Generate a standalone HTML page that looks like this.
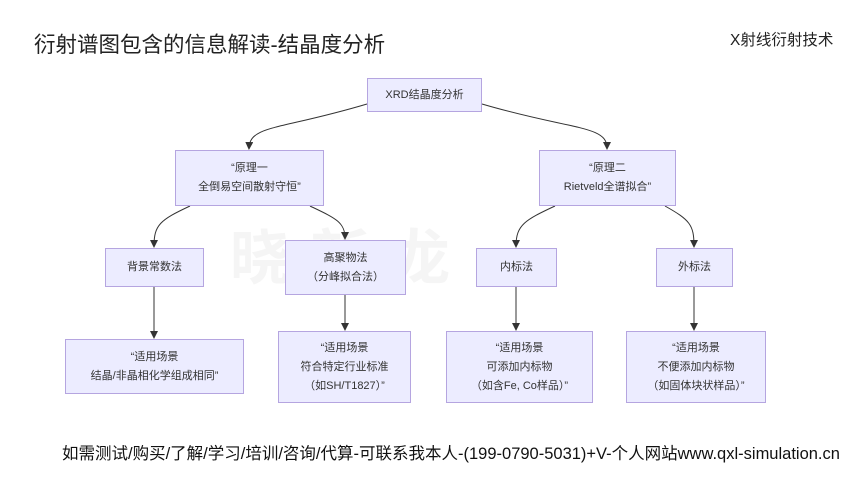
<!DOCTYPE html>
<html><head><meta charset="utf-8"><style>
body{margin:0;width:860px;height:484px;background:#fff;position:relative;overflow:hidden;font-family:"Liberation Sans","Noto Sans CJK SC",sans-serif;color:#333}
.b{position:absolute;box-sizing:border-box;background:#ececff;border:1.5px solid #b5a5e0;display:flex;align-items:center;justify-content:center;text-align:center;font-size:11px;line-height:19px;color:#333}
.t{position:absolute;white-space:nowrap}
</style></head><body>
<div class="t" style="left:34px;top:28px;font-size:21.5px;color:#222">衍射谱图包含的信息解读-结晶度分析</div>
<div class="t" style="left:730px;top:28px;font-size:15.5px;color:#222">X射线衍射技术</div>
<div class="t" style="left:230px;top:210px;font-size:60px;font-weight:bold;color:#f5f5f5;letter-spacing:20px">晓新龙</div>
<svg style="position:absolute;left:0;top:0" width="860" height="484">
<defs><marker id="a" markerWidth="8" markerHeight="8" refX="6" refY="4" orient="auto"><path d="M0,0L8,4L0,8z" fill="#333"/></marker></defs>
<g fill="none" stroke="#333" stroke-width="1">
<path d="M367,104 C280,130 250,125 249,148" marker-end="url(#a)"/>
<path d="M482,104 C570,130 607,125 607,148" marker-end="url(#a)"/>
<path d="M190,206 C160,220 154,225 154,246" marker-end="url(#a)"/>
<path d="M310,206 C335,218 345,222 345,238" marker-end="url(#a)"/>
<path d="M555,206 C525,220 516,225 516,246" marker-end="url(#a)"/>
<path d="M665,206 C690,220 694,225 694,246" marker-end="url(#a)"/>
<path d="M154,287 V337" marker-end="url(#a)"/>
<path d="M345,295 V329" marker-end="url(#a)"/>
<path d="M516,287 V329" marker-end="url(#a)"/>
<path d="M694,287 V329" marker-end="url(#a)"/>
</g></svg>
<div class="b" style="left:367px;top:78px;width:115px;height:34px">XRD结晶度分析</div>
<div class="b" style="left:175px;top:150px;width:149px;height:56px">“原理一<br>全倒易空间散射守恒”</div>
<div class="b" style="left:539px;top:150px;width:137px;height:56px">“原理二<br>Rietveld全谱拟合”</div>
<div class="b" style="left:105px;top:248px;width:99px;height:39px">背景常数法</div>
<div class="b" style="left:285px;top:240px;width:121px;height:55px">高聚物法<br>（分峰拟合法）</div>
<div class="b" style="left:476px;top:248px;width:81px;height:39px">内标法</div>
<div class="b" style="left:656px;top:248px;width:77px;height:39px">外标法</div>
<div class="b" style="left:65px;top:339px;width:179px;height:55px">“适用场景<br>结晶/非晶相化学组成相同”</div>
<div class="b" style="left:278px;top:331px;width:133px;height:72px">“适用场景<br>符合特定行业标准<br>（如SH/T1827）”</div>
<div class="b" style="left:446px;top:331px;width:147px;height:72px">“适用场景<br>可添加内标物<br>（如含Fe, Co样品）”</div>
<div class="b" style="left:626px;top:331px;width:140px;height:72px">“适用场景<br>不便添加内标物<br>（如固体块状样品）”</div>
<div class="t" style="left:62px;top:440px;font-size:16.5px;color:#111">如需测试/购买/了解/学习/培训/咨询/代算-可联系我本人-(199-0790-5031)+V-个人网站www.qxl-simulation.cn</div>
</body></html>
